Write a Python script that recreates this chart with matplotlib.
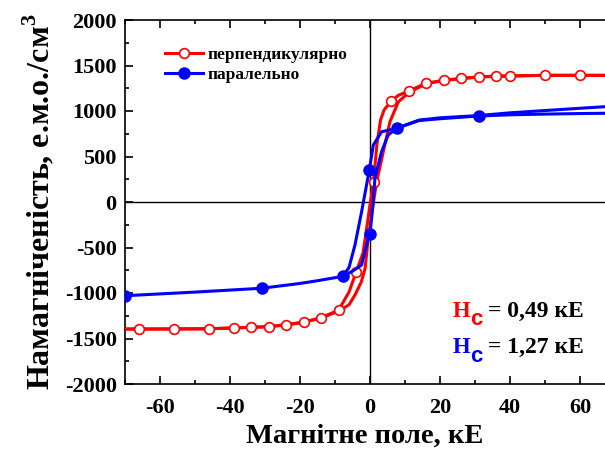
import matplotlib
matplotlib.use("Agg")
import matplotlib.pyplot as plt
from matplotlib.ticker import MultipleLocator
from matplotlib import rcParams

rcParams['font.family'] = 'serif'
rcParams['font.serif'] = ['Liberation Serif']
rcParams['font.weight'] = 'bold'
rcParams['axes.labelweight'] = 'bold'
rcParams['axes.unicode_minus'] = False
rcParams['mathtext.fontset'] = 'custom'
rcParams['mathtext.rm'] = 'Liberation Serif:bold'
rcParams['mathtext.bf'] = 'Liberation Serif:bold'

# perpendicular, branch with markers
red_h = [-70, -66, -56, -46, -39, -34, -29, -24, -19, -14, -9, -6, -4, -2, -1, 0, 1, 2, 3, 4, 6, 8, 11,
         16, 21, 26, 31, 36, 40, 50, 60, 67]
red_m = [-1396, -1396, -1396, -1393, -1385, -1377, -1370, -1352, -1322, -1271, -1190, -990, -773, -560,
         -300, -30, 223, 640, 900, 1010, 1105, 1170, 1220, 1304, 1337, 1359, 1374, 1385, 1385, 1392, 1392, 1392]
red_mark_h = [-66, -56, -46, -39, -34, -29, -24, -19, -14, -9, -4, 1, 6, 11, 16, 21, 26, 31, 36, 40, 50, 60]

# perpendicular, second branch
red2_h = [-70, -46, -29, -19, -14, -9, -6, -4.3, -2.5, -1.4, -0.5, 1.0, 1.9, 3.8, 5.7, 8.1, 11, 16, 21,
          31, 40, 50, 60, 67]
red2_m = [-1396, -1393, -1370, -1322, -1275, -1200, -1130, -1022, -880, -729, -399, 0, 223, 553, 883,
          1100, 1200, 1300, 1335, 1374, 1385, 1392, 1392, 1392]

# parallel, branch 1
blue_h = [-70, -50, -31, -20, -15, -7.8, -6, -4.3, -2.4, -0.2, 0.95, 3.3, 7.6, 14, 20, 31, 40, 50, 60, 67]
blue_m = [-1030, -990, -948, -895, -865, -817, -720, -473, -107, 352, 626, 772, 810, 900, 925, 950, 980,
          1005, 1030, 1047]
blue_mark_h = [-70, -31, -7.8, -0.2, 7.6, 31]

# parallel, branch 2
blue2_h = [-7.8, -5, -2.4, -0.5, 0, 0.9, 1.4, 3.3, 5.2, 7.6, 14, 20, 31, 40, 50, 60, 67]
blue2_m = [-817, -760, -692, -399, -352, 0, 260, 553, 736, 810, 895, 915, 945, 958, 966, 972, 975]
blue2_mark_h = [0]

fig = plt.figure(figsize=(6.05, 4.54), dpi=100)
ax = fig.add_axes([125 / 605, 70 / 454, 480 / 605, 364 / 454])

ax.axhline(0, color='black', lw=1.0, zorder=1)
ax.axvline(0, color='black', lw=1.0, zorder=1)

ax.plot(red2_h, red2_m, color='red', lw=2.2, zorder=2)
ax.plot(red_h, red_m, color='red', lw=2.2, marker='o', ms=7, mfc='white', mec='red', mew=1.2,
        markevery=[red_h.index(h) for h in red_mark_h], label='перпендикулярно', zorder=3)
ax.plot(blue2_h, blue2_m, color='blue', lw=2.2, marker='o', ms=8, mfc='blue', mec='blue',
        markevery=[blue2_h.index(h) for h in blue2_mark_h], zorder=4)
ax.plot(blue_h, blue_m, color='blue', lw=2.2, marker='o', ms=8, mfc='blue', mec='blue',
        markevery=[blue_h.index(h) for h in blue_mark_h], label='паралельно', zorder=4)

ax.set_xlim(-70, 67.14)
ax.set_ylim(-2000, 2000)
ax.xaxis.set_major_locator(MultipleLocator(20))
ax.xaxis.set_minor_locator(MultipleLocator(10))
ax.yaxis.set_major_locator(MultipleLocator(500))
ax.yaxis.set_minor_locator(MultipleLocator(250))
ax.tick_params(which='both', direction='in', top=True, right=False, width=1.2)
ax.tick_params(which='major', length=6)
ax.tick_params(which='minor', length=3)
ax.tick_params(axis='x', labelsize=16, pad=10)
ax.tick_params(axis='y', labelsize=16, pad=6)
for lbl in ax.get_xticklabels() + ax.get_yticklabels():
    lbl.set_fontweight('bold')
ax.spines['right'].set_visible(False)
for s in ['left', 'top', 'bottom']:
    ax.spines[s].set_linewidth(1.2)

ax.set_xlabel('Магнітне поле, кЕ', fontsize=20.5, labelpad=4)
ax.set_ylabel('Намагніченість, е.м.о./см$^3$', fontsize=23, labelpad=6)

ax.legend(loc='upper left', bbox_to_anchor=(0.05, 0.97), frameon=False, fontsize=12.5,
          handlelength=2.2, handletextpad=0.3, labelspacing=0.25)

for yb, val, col in [(0.185, '0,49', 'red'), (0.084, '1,27', 'blue')]:
    ax.text(0.683, yb, 'H', color=col, fontsize=16.5, transform=ax.transAxes, va='baseline')
    ax.text(0.719, yb - 0.023, 'c', color=col, fontsize=16, family='Liberation Sans', weight='bold',
            transform=ax.transAxes, va='baseline')
    ax.text(0.757, yb, '= ' + val + ' кЕ', color='black', fontsize=17, transform=ax.transAxes,
            va='baseline')

plt.savefig('out.png', dpi=100)
